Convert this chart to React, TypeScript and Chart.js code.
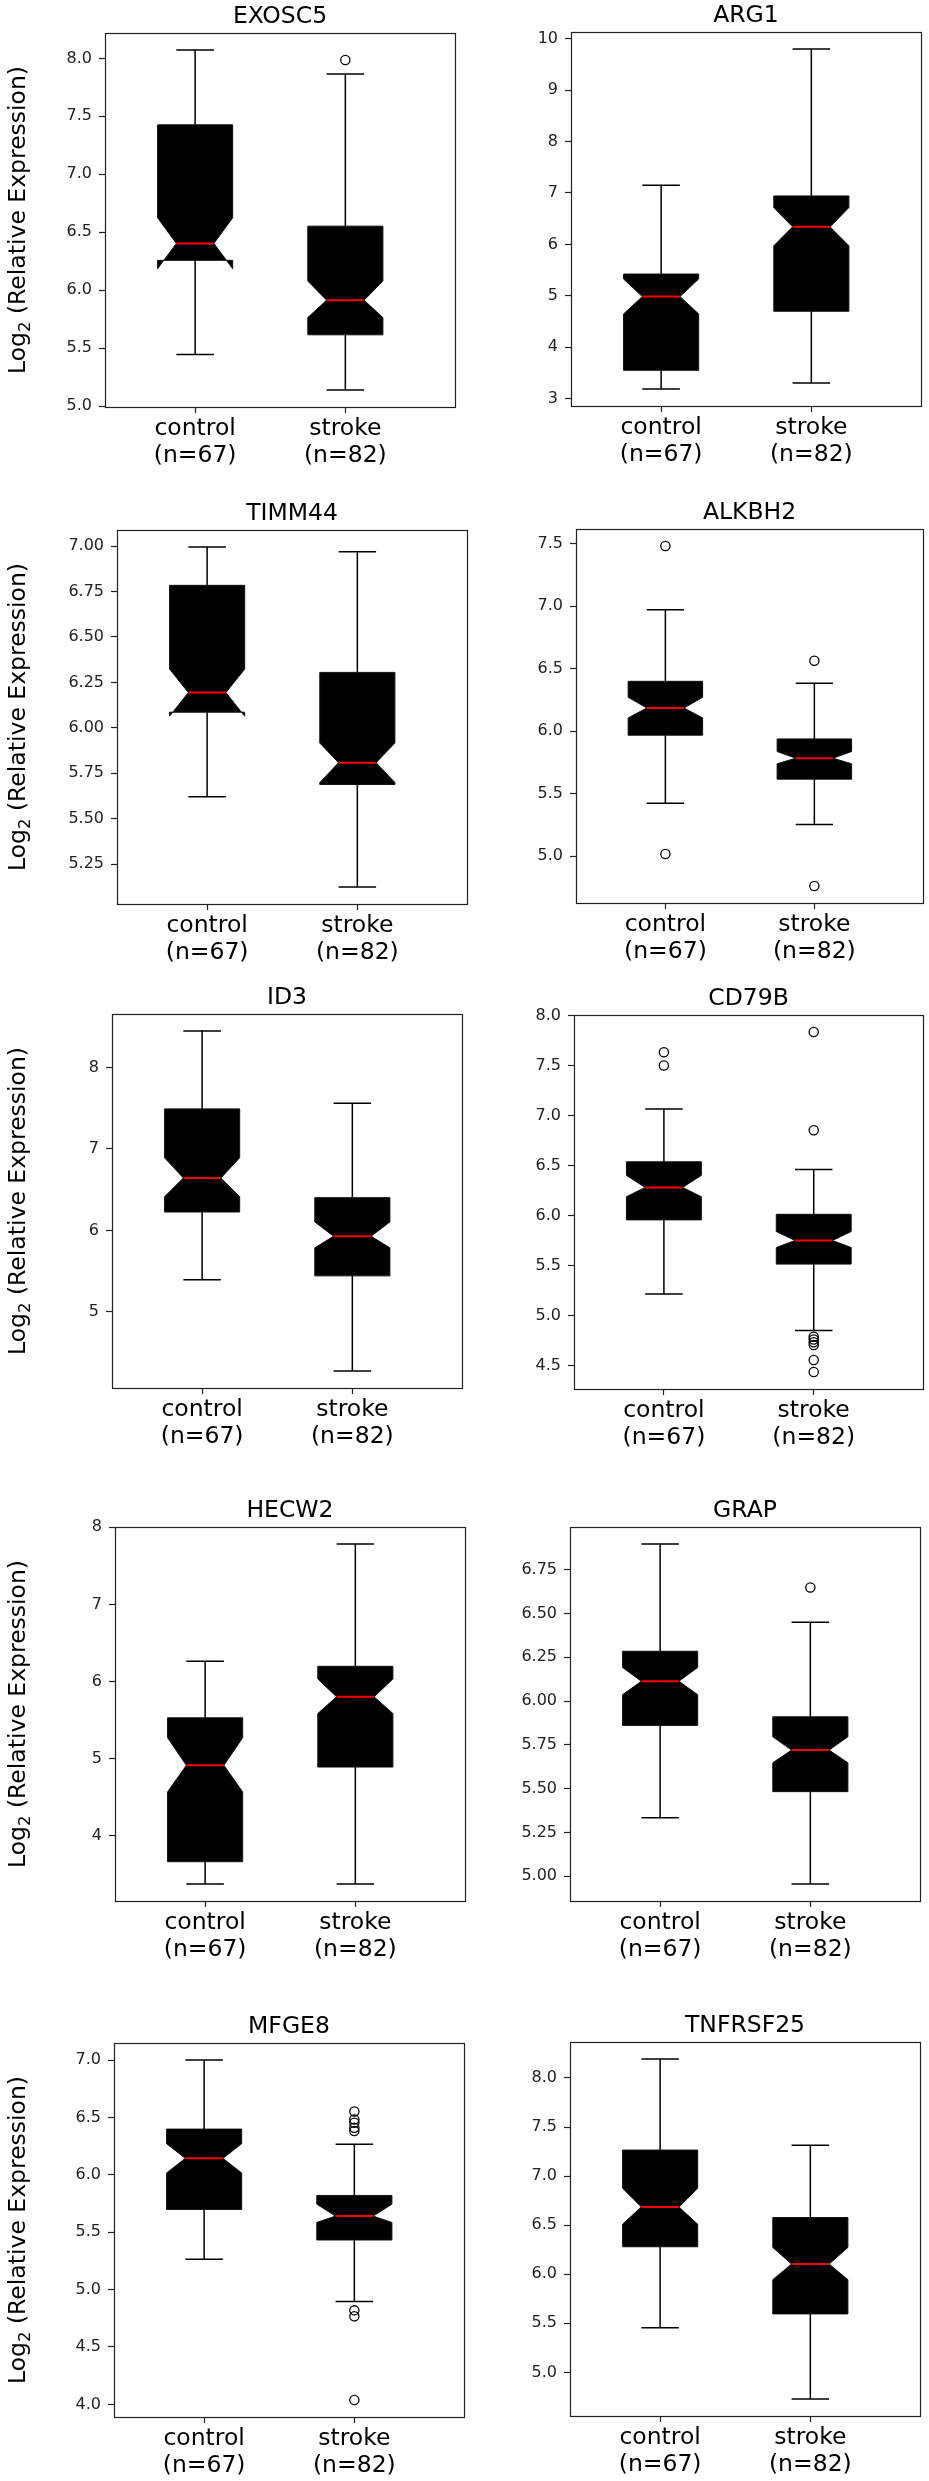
import React, { useEffect, useRef } from 'react';
import { Chart, registerables } from 'chart.js';

Chart.register(...registerables);

// ---------------- data ----------------
const GENES = ['EXOSC5', 'ARG1', 'TIMM44', 'ALKBH2', 'ID3', 'CD79B', 'HECW2', 'GRAP', 'MFGE8', 'TNFRSF25'];
const GROUP_LABELS = [['control', '(n=67)'], ['stroke', '(n=82)']];
const GROUP_POS = [1, 2];

const CONTROL_WHISKER_LOW = [5.447, 3.187, 5.620, 5.423, 5.392, 5.217, 3.375, 5.334, 5.264, 5.454];
const CONTROL_Q1 = [6.258, 3.551, 6.086, 5.967, 6.226, 5.958, 3.664, 5.861, 5.698, 6.280];
const CONTROL_NOTCH_LOW = [6.186, 4.648, 6.064, 6.105, 6.414, 6.190, 4.569, 6.036, 6.016, 6.510];
const CONTROL_MEDIAN = [6.404, 4.984, 6.194, 6.185, 6.643, 6.283, 4.914, 6.113, 6.143, 6.686];
const CONTROL_NOTCH_HIGH = [6.625, 5.326, 6.323, 6.270, 6.892, 6.403, 5.272, 6.191, 6.271, 6.876];
const CONTROL_Q3 = [7.427, 5.423, 6.784, 6.398, 7.493, 6.539, 5.530, 6.284, 6.398, 7.265];
const CONTROL_WHISKER_HIGH = [8.072, 7.149, 6.995, 6.970, 8.450, 7.067, 6.263, 6.896, 7.000, 8.193];
const CONTROL_OUTLIERS = [[], [], [], [7.481, 5.016], [], [7.635, 7.502], [], [], [], []];

const STROKE_WHISKER_LOW = [5.140, 3.303, 5.124, 5.253, 4.272, 4.852, 3.375, 4.956, 4.897, 4.729];
const STROKE_Q1 = [5.616, 4.699, 5.688, 5.615, 5.441, 5.516, 4.892, 5.483, 5.432, 5.596];
const STROKE_NOTCH_LOW = [5.765, 5.973, 5.699, 5.738, 5.785, 5.682, 5.586, 5.648, 5.585, 5.945];
const STROKE_MEDIAN = [5.914, 6.341, 5.808, 5.783, 5.928, 5.752, 5.802, 5.720, 5.640, 6.104];
const STROKE_NOTCH_HIGH = [6.080, 6.716, 5.916, 5.836, 6.104, 5.842, 6.034, 5.796, 5.744, 6.273];
const STROKE_Q3 = [6.553, 6.942, 6.305, 5.937, 6.402, 6.014, 6.198, 5.910, 5.820, 6.578];
const STROKE_WHISKER_HIGH = [7.865, 9.800, 6.969, 6.382, 7.563, 6.463, 7.784, 6.450, 6.265, 7.313];
const STROKE_OUTLIERS = [
  [7.986], [], [], [6.563, 4.760], [],
  [7.837, 6.854, 4.789, 4.762, 4.735, 4.706, 4.557, 4.437],
  [], [6.648],
  [6.552, 6.482, 6.453, 6.410, 6.381, 4.819, 4.767, 4.038],
  [],
];

const Y_TICK_STEP = [0.5, 1, 0.25, 0.5, 1, 0.5, 1, 0.25, 0.5, 0.5];
const Y_TICK_DECIMALS = [1, 0, 2, 1, 0, 1, 0, 2, 1, 1];

// ---------------- layout ----------------
const PLOT_LEFT = [105, 571, 117, 576, 112, 574, 115, 570, 114, 570];
const PLOT_TOP = [33, 32, 530, 529, 1014, 1015, 1527, 1527, 2043, 2042];
const PLOT_W = 350;
const PLOT_H = 374;
const TOP_PAD = 42;
const BOTTOM_EXTRA = 80;
const Y_AXIS_W = 70;
const X_AXIS_H = 72;
const X_MIN = 0.4;
const X_MAX = 2.73;
const BOX_WIDTH = 0.5;
const FONT = "'DejaVu Sans', sans-serif";

function statsFor(i: number) {
  return [
    {
      lo: CONTROL_WHISKER_LOW[i], q1: CONTROL_Q1[i], nlo: CONTROL_NOTCH_LOW[i], med: CONTROL_MEDIAN[i],
      nhi: CONTROL_NOTCH_HIGH[i], q3: CONTROL_Q3[i], hi: CONTROL_WHISKER_HIGH[i], out: CONTROL_OUTLIERS[i],
    },
    {
      lo: STROKE_WHISKER_LOW[i], q1: STROKE_Q1[i], nlo: STROKE_NOTCH_LOW[i], med: STROKE_MEDIAN[i],
      nhi: STROKE_NOTCH_HIGH[i], q3: STROKE_Q3[i], hi: STROKE_WHISKER_HIGH[i], out: STROKE_OUTLIERS[i],
    },
  ];
}

function Panel({ idx }: { idx: number }) {
  const ref = useRef<HTMLCanvasElement | null>(null);
  const col = idx % 2;
  const cx = col === 0 ? 0 : 490;
  const cw = col === 0 ? 480 : 439;
  const ctop = PLOT_TOP[idx] - TOP_PAD;
  const ch = PLOT_H + TOP_PAD + BOTTOM_EXTRA;

  useEffect(() => {
    const canvas = ref.current;
    if (!canvas) return;
    const stats = statsFor(idx);
    const all: number[] = [];
    stats.forEach((s) => {
      all.push(s.lo, s.q1, s.nlo, s.med, s.nhi, s.q3, s.hi, ...s.out);
    });
    const dmin = Math.min(...all);
    const dmax = Math.max(...all);
    const margin = (dmax - dmin) * 0.05;
    const yMin = dmin - margin;
    const yMax = dmax + margin;
    const step = Y_TICK_STEP[idx];
    const dec = Y_TICK_DECIMALS[idx];

    const boxPlugin = {
      id: 'notchedBox',
      beforeDatasetsDraw(chart: any) {
        const { ctx, scales } = chart;
        const xs = scales.x;
        const ys = scales.y;
        const area = chart.chartArea;
        ctx.save();
        ctx.beginPath();
        ctx.rect(area.left, area.top, area.right - area.left, area.bottom - area.top);
        ctx.clip();
        stats.forEach((s, g) => {
          const pos = GROUP_POS[g];
          const xc = xs.getPixelForValue(pos);
          const xl = xs.getPixelForValue(pos - BOX_WIDTH / 2);
          const xr = xs.getPixelForValue(pos + BOX_WIDTH / 2);
          const cl = xs.getPixelForValue(pos - BOX_WIDTH / 4);
          const cr = xs.getPixelForValue(pos + BOX_WIDTH / 4);
          const py = (v: number) => ys.getPixelForValue(v);
          // whiskers
          ctx.strokeStyle = '#000';
          ctx.lineWidth = 1.5;
          ctx.beginPath();
          ctx.moveTo(xc, py(s.lo));
          ctx.lineTo(xc, py(s.q1));
          ctx.moveTo(xc, py(s.q3));
          ctx.lineTo(xc, py(s.hi));
          ctx.moveTo(cl, py(s.lo));
          ctx.lineTo(cr, py(s.lo));
          ctx.moveTo(cl, py(s.hi));
          ctx.lineTo(cr, py(s.hi));
          ctx.stroke();
          // notched box
          ctx.beginPath();
          ctx.moveTo(xl, py(s.q1));
          ctx.lineTo(xl, py(s.nlo));
          ctx.lineTo(cl, py(s.med));
          ctx.lineTo(xl, py(s.nhi));
          ctx.lineTo(xl, py(s.q3));
          ctx.lineTo(xr, py(s.q3));
          ctx.lineTo(xr, py(s.nhi));
          ctx.lineTo(cr, py(s.med));
          ctx.lineTo(xr, py(s.nlo));
          ctx.lineTo(xr, py(s.q1));
          ctx.closePath();
          ctx.fillStyle = '#000';
          ctx.fill();
          ctx.lineWidth = 1;
          ctx.strokeStyle = '#111';
          ctx.stroke();
          // median
          ctx.beginPath();
          ctx.strokeStyle = '#ff0000';
          ctx.lineWidth = 2;
          ctx.moveTo(cl, py(s.med));
          ctx.lineTo(cr, py(s.med));
          ctx.stroke();
        });
        ctx.restore();
      },
      afterDraw(chart: any) {
        const { ctx } = chart;
        const a = chart.chartArea;
        ctx.save();
        // frame
        ctx.strokeStyle = '#222';
        ctx.lineWidth = 1.2;
        ctx.strokeRect(Math.round(a.left) + 0.5, Math.round(a.top) + 0.5, Math.round(a.right - a.left), Math.round(a.bottom - a.top));
        // title
        ctx.fillStyle = '#000';
        ctx.font = `23.5px ${FONT}`;
        ctx.textAlign = 'center';
        ctx.textBaseline = 'alphabetic';
        ctx.fillText(GENES[idx], (a.left + a.right) / 2, a.top - 10);
        // y label (left column only)
        if (col === 0) {
          const main1 = 'Log';
          const sub = '2';
          const main2 = ' (Relative Expression)';
          ctx.font = `23.5px ${FONT}`;
          const w1 = ctx.measureText(main1).width;
          const w3 = ctx.measureText(main2).width;
          ctx.font = `16.5px ${FONT}`;
          const w2 = ctx.measureText(sub).width;
          const total = w1 + w2 + w3;
          ctx.translate(25, (a.top + a.bottom) / 2);
          ctx.rotate(-Math.PI / 2);
          ctx.textAlign = 'left';
          let x = -total / 2;
          ctx.font = `23.5px ${FONT}`;
          ctx.fillText(main1, x, 0);
          x += w1;
          ctx.font = `16.5px ${FONT}`;
          ctx.fillText(sub, x, 5);
          x += w2;
          ctx.font = `23.5px ${FONT}`;
          ctx.fillText(main2, x, 0);
        }
        ctx.restore();
      },
    };

    const outlierData = (g: number) => stats[g].out.map((v) => ({ x: GROUP_POS[g], y: v }));

    const chart = new Chart(canvas, {
      type: 'scatter',
      data: {
        datasets: [0, 1].map((g) => ({
          label: GROUP_LABELS[g][0],
          data: outlierData(g),
          pointRadius: 4.6,
          pointBorderWidth: 1.3,
          pointBorderColor: '#000',
          pointBackgroundColor: 'rgba(0,0,0,0)',
          pointHoverRadius: 4.6,
        })),
      },
      options: {
        animation: false,
        responsive: false,
        devicePixelRatio: 1,
        events: [],
        layout: {
          padding: {
            left: PLOT_LEFT[idx] - cx - Y_AXIS_W,
            right: cx + cw - (PLOT_LEFT[idx] + PLOT_W),
            top: TOP_PAD,
            bottom: BOTTOM_EXTRA - X_AXIS_H,
          },
        },
        plugins: {
          legend: { display: false },
          title: { display: false },
          tooltip: { enabled: false },
        },
        scales: {
          x: {
            type: 'linear',
            min: X_MIN,
            max: X_MAX,
            afterFit: (scale: any) => { scale.height = X_AXIS_H; },
            afterBuildTicks: (scale: any) => { scale.ticks = GROUP_POS.map((v) => ({ value: v })); },
            grid: { display: true, drawOnChartArea: false, drawTicks: true, tickLength: 6, tickColor: '#222', tickWidth: 1.2 },
            border: { display: false },
            ticks: {
              autoSkip: false,
              maxRotation: 0,
              padding: 3,
              color: '#000',
              font: { family: FONT, size: 23.5, lineHeight: 1.12 },
              callback: (v: any) => GROUP_LABELS[GROUP_POS.indexOf(Number(v))] || '',
            },
          },
          y: {
            type: 'linear',
            min: yMin,
            max: yMax,
            afterFit: (scale: any) => { scale.width = Y_AXIS_W; },
            afterBuildTicks: (scale: any) => {
              const t: { value: number }[] = [];
              const start = Math.ceil((yMin - 1e-9) / step);
              for (let k = start; k * step <= yMax + 1e-9; k++) t.push({ value: +(k * step).toFixed(6) });
              scale.ticks = t;
            },
            grid: { display: true, drawOnChartArea: false, drawTicks: true, tickLength: 6, tickColor: '#222', tickWidth: 1.2 },
            border: { display: false },
            ticks: {
              padding: 7,
              color: '#222',
              font: { family: FONT, size: 16 },
              callback: (v: any) => Number(v).toFixed(dec),
            },
          },
        },
      },
      plugins: [boxPlugin],
    } as any);
    return () => chart.destroy();
  }, [idx]);

  return (
    <canvas
      ref={ref}
      width={cw}
      height={ch}
      style={{ position: 'absolute', left: cx, top: ctop, width: cw, height: ch }}
    />
  );
}

export default function App() {
  return (
    <div style={{ position: 'absolute', left: 0, top: 0, width: 929, height: 2481, background: '#fff', overflow: 'hidden' }}>
      {GENES.map((g, i) => (
        <Panel key={g} idx={i} />
      ))}
    </div>
  );
}
